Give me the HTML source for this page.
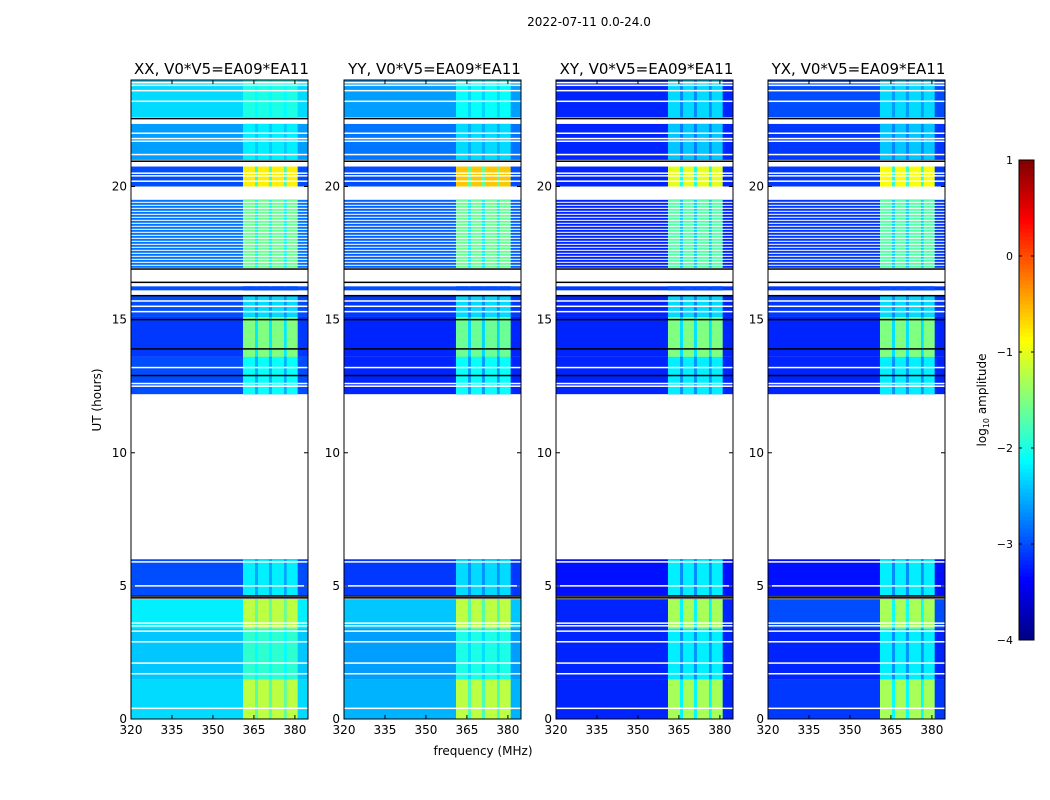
<!DOCTYPE html>
<html><head><meta charset="utf-8"><style>
body{margin:0;background:#fff;}
svg{display:block;font-family:"DejaVu Sans","Liberation Sans",sans-serif;}
</style></head><body>
<svg id="chart" width="1050" height="800" xmlns="http://www.w3.org/2000/svg">
<text x="589" y="26" font-size="12" text-anchor="middle">2022-07-11 0.0-24.0</text>
<text x="483" y="755" font-size="12" text-anchor="middle">frequency (MHz)</text>
<text transform="translate(101,400) rotate(-90)" font-size="12" text-anchor="middle">UT (hours)</text>
<text transform="translate(986,400) rotate(-90)" font-size="12" text-anchor="middle">log<tspan font-size="8" dy="3">10</tspan><tspan dy="-3"> amplitude</tspan></text>
</svg>
<script>
const pols=["XX","YY","XY","YX"];
const panelLeft=[131,344,556,768];
const xTicks=[320,335,350,365,380];
const yTicks=[0,5,10,15,20];
const cbTicks=[1,0,-1,-2,-3,-4];
// segments: start hour, end hour
const segStart=[0.0,1.5,3.4,4.65,12.2,13.6,15.1,16.1,16.9,20.0,21.0,22.6];
const segEnd  =[1.5,3.4,4.5,6.0,13.6,15.1,15.9,16.25,19.5,20.75,22.35,24.0];
const baseXX=[-2.3,-2.4,-2.2,-3.0,-3.0,-3.1,-3.0,-3.0,-2.8,-3.0,-2.6,-2.3];
const baseYY=[-2.5,-2.6,-2.4,-3.1,-3.2,-3.2,-3.1,-3.0,-2.9,-3.0,-2.8,-2.6];
const baseXY=[-3.2,-3.2,-3.2,-3.3,-3.2,-3.2,-3.2,-3.1,-3.2,-3.2,-3.2,-3.2];
const baseYX=[-3.1,-3.2,-3.0,-3.3,-3.2,-3.2,-3.1,-3.1,-3.1,-3.1,-3.1,-3.0];
const spwXX=[-1.2,-1.9,-1.2,-2.2,-2.1,-1.5,-2.3,-3.0,-1.6,-0.8,-2.2,-2.0];
const spwYY=[-1.2,-2.0,-1.2,-2.3,-2.1,-1.6,-2.3,-3.0,-1.6,-0.6,-2.3,-2.1];
const spwXY=[-1.3,-2.2,-1.3,-2.2,-2.2,-1.5,-2.3,-3.0,-1.7,-1.0,-2.4,-2.3];
const spwYX=[-1.3,-2.2,-1.3,-2.2,-2.2,-1.5,-2.3,-3.0,-1.7,-0.9,-2.4,-2.3];
const segStriped=[0,0,0,0,0,0,0,0,1,0,0,0];
const spwLo=[361.0,366.5,371.6,377.0];
const spwHi=[365.4,370.5,376.0,381.0];
const whiteLines=[0.4,1.7,2.1,2.9,3.3,3.5,3.6,5.0,5.9,12.5,12.6,13.2,15.3,15.5,15.7,20.2,20.4,20.5,21.2,21.7,21.8,22.0,23.2,23.6,23.8,23.9];
const blackLines=[4.55,4.62,12.9,13.9,15.0,15.9,16.4,16.9,20.95,22.55];

const base=[baseXX,baseYY,baseXY,baseYX];
const spw=[spwXX,spwYY,spwXY,spwYX];
const NS="http://www.w3.org/2000/svg";
const svg=document.getElementById('chart');
const top0=80,bot0=719,pw=177,fmin=320,fmax=384.8;
const Y=h=>bot0-(h/24)*(bot0-top0);
const X=(p,f)=>panelLeft[p]+(f-fmin)/(fmax-fmin)*pw;
function jet(v){let t=(v+4)/5;t=Math.max(0,Math.min(1,t));
 const c=x=>Math.round(255*Math.max(0,Math.min(1,1.5-Math.abs(4*t-x))));
 return `rgb(${c(3)},${c(2)},${c(1)})`;}
function mk(tag,attrs,parent){const e=document.createElementNS(NS,tag);for(const k in attrs)e.setAttribute(k,attrs[k]);(parent||svg).appendChild(e);return e;}

for(let p=0;p<4;p++){
 const g=mk('g',{});
 
 
 for(let i=0;i<segStart.length;i++){
  const y1=Y(segEnd[i]),y2=Y(segStart[i]);
  const r=mk('rect',{x:panelLeft[p],y:y1,width:pw,height:y2-y1,fill:jet(base[p][i])},g);
  
  
  const mx1=X(p,spwLo[0]),mx2=X(p,spwHi[spwHi.length-1]);
  const m=mk('rect',{x:mx1,y:y1,width:mx2-mx1,height:y2-y1,fill:jet(base[p][i]*0.45+spw[p][i]*0.55)},g);
  
  
  for(let k=0;k<spwLo.length;k++){
   const x1=X(p,spwLo[k]),x2=X(p,spwHi[k]);
   const s=mk('rect',{x:x1,y:y1,width:x2-x1,height:y2-y1,fill:jet(spw[p][i])},g);
   
   
  }
  if(segStriped[i]){
   for(let yy=y1+2;yy<y2-1;yy+=3){
    const l=mk('rect',{x:panelLeft[p],y:yy,width:pw,height:1,fill:'#fff'},g);
    
    
   }
  }
 }
 whiteLines.forEach(h=>{const l=mk('rect',{x:panelLeft[p],y:Y(h)-0.75,width:pw,height:1.5,fill:'#fff'},g);
  
  });
 blackLines.forEach(h=>{const l=mk('rect',{x:panelLeft[p],y:Y(h)-0.75,width:pw,height:1.5,fill:'#000'},g);
  
  });
 const fr=mk('rect',{x:panelLeft[p],y:top0,width:pw,height:bot0-top0,fill:'none',stroke:'#000','stroke-width':1},g);
 
 
 const t=mk('text',{x:panelLeft[p]+pw/2+2,y:74,'font-size':15,'text-anchor':'middle'},g);
 t.textContent=pols[p]+', V0*V5=EA09*EA11';
 
 
 xTicks.forEach(v=>{const x=X(p,v);
  mk('line',{x1:x,x2:x,y1:bot0,y2:bot0-4,stroke:'#000'},g);
  mk('line',{x1:x,x2:x,y1:top0,y2:top0+4,stroke:'#000'},g);
  const tl=mk('text',{x:x,y:bot0+15,'font-size':12,'text-anchor':'middle'},g);
  tl.textContent=v;
  
  });
 yTicks.forEach(v=>{const y=Y(v);
  mk('line',{x1:panelLeft[p],x2:panelLeft[p]+4,y1:y,y2:y,stroke:'#000'},g);
  mk('line',{x1:panelLeft[p]+pw,x2:panelLeft[p]+pw-4,y1:y,y2:y,stroke:'#000'},g);
  const tl=mk('text',{x:panelLeft[p]-4,y:y+4,'font-size':12,'text-anchor':'end'},g);
  tl.textContent=v;
  
  });
}
// colorbar
const cb=mk('g',{});


const cbTop=160,cbBot=640,cbX=1019,cbW=15;
for(let i=0;i<120;i++){const v=-4+5*(i+0.5)/120;const y=cbBot-(i+1)*(cbBot-cbTop)/120;
 mk('rect',{x:cbX,y:y,width:cbW,height:(cbBot-cbTop)/120+0.5,fill:jet(v)},cb);}
mk('rect',{x:cbX,y:cbTop,width:cbW,height:cbBot-cbTop,fill:'none',stroke:'#000'},cb);
cbTicks.forEach(v=>{const y=cbBot-(v+4)/5*(cbBot-cbTop);
 mk('line',{x1:cbX,x2:cbX+3,y1:y,y2:y,stroke:'#000'},cb);
 mk('line',{x1:cbX+cbW,x2:cbX+cbW-3,y1:y,y2:y,stroke:'#000'},cb);
 const tl=mk('text',{x:cbX-6,y:y+4,'font-size':11,'text-anchor':'end'},cb);
 tl.textContent=v<0?'\u2212'+(-v):v;
 
 });
</script>
</body></html>
